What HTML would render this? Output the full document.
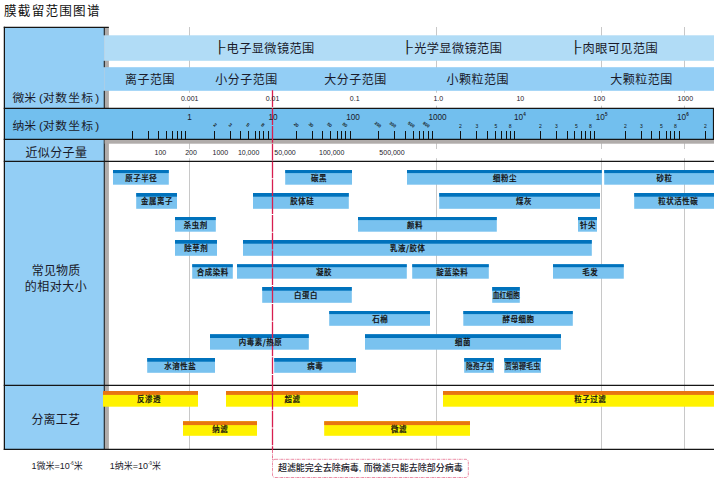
<!DOCTYPE html>
<html lang="zh-CN">
<head>
<meta charset="utf-8">
<title>膜截留范围图谱</title>
<style>
html,body{margin:0;padding:0;background:#fff;}
body{width:720px;height:483px;overflow:hidden;font-family:"Liberation Sans", "Noto Sans CJK SC", sans-serif;}
svg{display:block;}
text{white-space:pre;}
</style>
</head>
<body>
<svg width="720" height="483" viewBox="0 0 720 483">
<rect x="0" y="0" width="720" height="483" fill="#ffffff"/>
<rect x="189.00" y="27.00" width="1.00" height="422.00" fill="#c8c8c8" />
<rect x="436.00" y="27.00" width="1.00" height="422.00" fill="#c8c8c8" />
<rect x="601.00" y="27.00" width="1.00" height="422.00" fill="#c8c8c8" />
<rect x="684.00" y="27.00" width="1.00" height="422.00" fill="#c8c8c8" />
<rect x="109.00" y="92.70" width="605.00" height="13.00" fill="#ffffff" />
<rect x="109.00" y="149.00" width="605.00" height="9.20" fill="#ffffff" />
<rect x="4.00" y="27.00" width="100.50" height="422.00" fill="#93cef5" />
<rect x="104.60" y="27.00" width="4.30" height="422.00" fill="#b0acaa" />
<rect x="104.50" y="35.30" width="609.50" height="25.50" fill="#b1dcf6" />
<rect x="104.50" y="67.20" width="609.50" height="23.60" fill="#93cef5" />
<rect x="103.75" y="27.00" width="1.05" height="8.30" fill="#151515" />
<rect x="103.75" y="60.80" width="1.05" height="6.40" fill="#151515" />
<rect x="103.75" y="90.80" width="1.05" height="17.20" fill="#151515" />
<rect x="103.75" y="139.00" width="1.05" height="310.00" fill="#151515" />
<rect x="4.00" y="108.00" width="710.00" height="31.50" fill="#72bfee" />
<rect x="104.60" y="139.60" width="609.40" height="4.10" fill="#b0acaa" />
<rect x="3.75" y="107.75" width="710.25" height="1.25" fill="#151515" />
<rect x="3.75" y="138.75" width="710.25" height="1.25" fill="#151515" />
<rect x="3.75" y="160.75" width="710.25" height="1.25" fill="#151515" />
<rect x="3.75" y="384.75" width="710.25" height="1.25" fill="#151515" />
<rect x="3.75" y="448.75" width="710.25" height="1.25" fill="#151515" />
<rect x="3.75" y="26.75" width="105.05" height="1.25" fill="#151515" />
<rect x="3.75" y="26.75" width="1.25" height="423.25" fill="#151515" />
<rect x="712.90" y="108.00" width="1.10" height="32.00" fill="#151515" />
<rect x="132.00" y="131.00" width="1.00" height="8.00" fill="#111" />
<rect x="148.00" y="131.00" width="1.00" height="8.00" fill="#111" />
<rect x="158.00" y="131.00" width="1.00" height="8.00" fill="#111" />
<rect x="166.00" y="131.00" width="1.00" height="8.00" fill="#111" />
<rect x="172.00" y="131.00" width="1.00" height="8.00" fill="#111" />
<rect x="177.00" y="131.00" width="1.00" height="8.00" fill="#111" />
<rect x="181.00" y="131.00" width="1.00" height="8.00" fill="#111" />
<rect x="185.00" y="131.00" width="1.00" height="8.00" fill="#111" />
<rect x="214.00" y="131.00" width="1.00" height="8.00" fill="#111" />
<rect x="230.00" y="131.00" width="1.00" height="8.00" fill="#111" />
<rect x="240.00" y="131.00" width="1.00" height="8.00" fill="#111" />
<rect x="248.00" y="131.00" width="1.00" height="8.00" fill="#111" />
<rect x="255.00" y="131.00" width="1.00" height="8.00" fill="#111" />
<rect x="259.00" y="131.00" width="1.00" height="8.00" fill="#111" />
<rect x="263.00" y="131.00" width="1.00" height="8.00" fill="#111" />
<rect x="268.00" y="131.00" width="1.00" height="8.00" fill="#111" />
<rect x="296.00" y="131.00" width="1.00" height="8.00" fill="#111" />
<rect x="312.00" y="131.00" width="1.00" height="8.00" fill="#111" />
<rect x="322.00" y="131.00" width="1.00" height="8.00" fill="#111" />
<rect x="330.00" y="131.00" width="1.00" height="8.00" fill="#111" />
<rect x="337.00" y="131.00" width="1.00" height="8.00" fill="#111" />
<rect x="341.00" y="131.00" width="1.00" height="8.00" fill="#111" />
<rect x="345.00" y="131.00" width="1.00" height="8.00" fill="#111" />
<rect x="350.00" y="131.00" width="1.00" height="8.00" fill="#111" />
<rect x="378.00" y="131.00" width="1.00" height="8.00" fill="#111" />
<rect x="394.00" y="131.00" width="1.00" height="8.00" fill="#111" />
<rect x="405.00" y="131.00" width="1.00" height="8.00" fill="#111" />
<rect x="413.00" y="131.00" width="1.00" height="8.00" fill="#111" />
<rect x="419.00" y="131.00" width="1.00" height="8.00" fill="#111" />
<rect x="423.00" y="131.00" width="1.00" height="8.00" fill="#111" />
<rect x="428.00" y="131.00" width="1.00" height="8.00" fill="#111" />
<rect x="432.00" y="131.00" width="1.00" height="8.00" fill="#111" />
<rect x="460.00" y="131.00" width="1.00" height="8.00" fill="#111" />
<rect x="476.00" y="131.00" width="1.00" height="8.00" fill="#111" />
<rect x="487.00" y="131.00" width="1.00" height="8.00" fill="#111" />
<rect x="495.00" y="131.00" width="1.00" height="8.00" fill="#111" />
<rect x="501.00" y="131.00" width="1.00" height="8.00" fill="#111" />
<rect x="506.00" y="131.00" width="1.00" height="8.00" fill="#111" />
<rect x="510.00" y="131.00" width="1.00" height="8.00" fill="#111" />
<rect x="514.00" y="131.00" width="1.00" height="8.00" fill="#111" />
<rect x="540.00" y="131.00" width="1.00" height="8.00" fill="#111" />
<rect x="556.00" y="131.00" width="1.00" height="8.00" fill="#111" />
<rect x="567.00" y="131.00" width="1.00" height="8.00" fill="#111" />
<rect x="574.00" y="131.00" width="1.00" height="8.00" fill="#111" />
<rect x="581.00" y="131.00" width="1.00" height="8.00" fill="#111" />
<rect x="585.00" y="131.00" width="1.00" height="8.00" fill="#111" />
<rect x="590.00" y="131.00" width="1.00" height="8.00" fill="#111" />
<rect x="594.00" y="131.00" width="1.00" height="8.00" fill="#111" />
<rect x="625.00" y="131.00" width="1.00" height="8.00" fill="#111" />
<rect x="641.00" y="131.00" width="1.00" height="8.00" fill="#111" />
<rect x="651.00" y="131.00" width="1.00" height="8.00" fill="#111" />
<rect x="659.00" y="131.00" width="1.00" height="8.00" fill="#111" />
<rect x="666.00" y="131.00" width="1.00" height="8.00" fill="#111" />
<rect x="670.00" y="131.00" width="1.00" height="8.00" fill="#111" />
<rect x="674.00" y="131.00" width="1.00" height="8.00" fill="#111" />
<rect x="679.00" y="131.00" width="1.00" height="8.00" fill="#111" />
<rect x="705.00" y="131.00" width="1.00" height="8.00" fill="#111" />
<rect x="113.00" y="170.00" width="55.80" height="14.70" fill="#79c2ef" />
<rect x="113.00" y="170.00" width="55.80" height="3.10" fill="#0072bc" />
<rect x="285.20" y="170.00" width="66.80" height="14.70" fill="#79c2ef" />
<rect x="285.20" y="170.00" width="66.80" height="3.10" fill="#0072bc" />
<rect x="407.00" y="170.00" width="194.80" height="14.70" fill="#79c2ef" />
<rect x="407.00" y="170.00" width="194.80" height="3.10" fill="#0072bc" />
<rect x="604.20" y="170.00" width="109.80" height="14.70" fill="#79c2ef" />
<rect x="604.20" y="170.00" width="109.80" height="3.10" fill="#0072bc" />
<rect x="136.20" y="193.00" width="40.80" height="15.80" fill="#79c2ef" />
<rect x="136.20" y="193.00" width="40.80" height="3.70" fill="#0072bc" />
<rect x="253.00" y="193.00" width="95.80" height="15.80" fill="#79c2ef" />
<rect x="253.00" y="193.00" width="95.80" height="3.70" fill="#0072bc" />
<rect x="439.20" y="193.00" width="160.80" height="15.80" fill="#79c2ef" />
<rect x="439.20" y="193.00" width="160.80" height="3.70" fill="#0072bc" />
<rect x="634.20" y="193.00" width="79.80" height="15.80" fill="#79c2ef" />
<rect x="634.20" y="193.00" width="79.80" height="3.70" fill="#0072bc" />
<rect x="175.00" y="217.00" width="40.80" height="14.70" fill="#79c2ef" />
<rect x="175.00" y="217.00" width="40.80" height="3.10" fill="#0072bc" />
<rect x="358.00" y="217.00" width="138.80" height="14.70" fill="#79c2ef" />
<rect x="358.00" y="217.00" width="138.80" height="3.10" fill="#0072bc" />
<rect x="578.00" y="217.00" width="19.00" height="14.70" fill="#79c2ef" />
<rect x="578.00" y="217.00" width="19.00" height="3.10" fill="#0072bc" />
<rect x="175.00" y="240.00" width="42.00" height="15.80" fill="#79c2ef" />
<rect x="175.00" y="240.00" width="42.00" height="3.70" fill="#0072bc" />
<rect x="243.00" y="240.00" width="348.80" height="15.80" fill="#79c2ef" />
<rect x="243.00" y="240.00" width="348.80" height="3.70" fill="#0072bc" />
<rect x="192.20" y="264.20" width="40.60" height="14.50" fill="#79c2ef" />
<rect x="192.20" y="264.20" width="40.60" height="3.00" fill="#0072bc" />
<rect x="237.00" y="264.20" width="169.80" height="14.50" fill="#79c2ef" />
<rect x="237.00" y="264.20" width="169.80" height="3.00" fill="#0072bc" />
<rect x="412.20" y="264.20" width="76.60" height="14.50" fill="#79c2ef" />
<rect x="412.20" y="264.20" width="76.60" height="3.00" fill="#0072bc" />
<rect x="553.00" y="264.20" width="70.80" height="14.50" fill="#79c2ef" />
<rect x="553.00" y="264.20" width="70.80" height="3.00" fill="#0072bc" />
<rect x="262.20" y="287.00" width="89.60" height="15.80" fill="#79c2ef" />
<rect x="262.20" y="287.00" width="89.60" height="3.70" fill="#0072bc" />
<rect x="492.20" y="287.00" width="27.60" height="15.80" fill="#79c2ef" />
<rect x="492.20" y="287.00" width="27.60" height="3.70" fill="#0072bc" />
<rect x="329.20" y="311.00" width="100.80" height="14.80" fill="#79c2ef" />
<rect x="329.20" y="311.00" width="100.80" height="3.10" fill="#0072bc" />
<rect x="463.30" y="311.00" width="109.50" height="14.80" fill="#79c2ef" />
<rect x="463.30" y="311.00" width="109.50" height="3.10" fill="#0072bc" />
<rect x="210.00" y="334.20" width="98.80" height="15.50" fill="#79c2ef" />
<rect x="210.00" y="334.20" width="98.80" height="3.80" fill="#0072bc" />
<rect x="365.00" y="334.20" width="196.00" height="15.50" fill="#79c2ef" />
<rect x="365.00" y="334.20" width="196.00" height="3.80" fill="#0072bc" />
<rect x="147.20" y="358.00" width="67.80" height="14.80" fill="#79c2ef" />
<rect x="147.20" y="358.00" width="67.80" height="3.70" fill="#0072bc" />
<rect x="274.20" y="358.00" width="81.80" height="14.80" fill="#79c2ef" />
<rect x="274.20" y="358.00" width="81.80" height="3.70" fill="#0072bc" />
<rect x="464.20" y="358.00" width="29.80" height="14.80" fill="#79c2ef" />
<rect x="464.20" y="358.00" width="29.80" height="3.70" fill="#0072bc" />
<rect x="504.20" y="358.00" width="36.80" height="14.80" fill="#79c2ef" />
<rect x="504.20" y="358.00" width="36.80" height="3.70" fill="#0072bc" />
<rect x="103.00" y="391.00" width="95.00" height="15.70" fill="#fff200" />
<rect x="103.00" y="391.00" width="95.00" height="3.90" fill="#e87511" />
<rect x="226.00" y="391.00" width="132.00" height="15.70" fill="#fff200" />
<rect x="226.00" y="391.00" width="132.00" height="3.90" fill="#e87511" />
<rect x="443.00" y="391.00" width="271.00" height="15.70" fill="#fff200" />
<rect x="443.00" y="391.00" width="271.00" height="3.90" fill="#e87511" />
<rect x="183.00" y="421.20" width="74.00" height="14.60" fill="#fff200" />
<rect x="183.00" y="421.20" width="74.00" height="3.90" fill="#e87511" />
<rect x="324.20" y="421.20" width="145.80" height="14.60" fill="#fff200" />
<rect x="324.20" y="421.20" width="145.80" height="3.90" fill="#e87511" />
<line x1="272.50" y1="90.30" x2="272.50" y2="450.00" stroke="#d81e4f" stroke-width="1.3" stroke-dasharray="16.8 1"/>
<line x1="272.50" y1="450.00" x2="272.50" y2="461.00" stroke="#d81e4f" stroke-width="0.9" stroke-opacity="0.7" stroke-dasharray="3 0.8 0.8 0.8"/>
<rect x="272.5" y="459.3" width="195.8" height="18.2" rx="2.5" ry="2.5" fill="#fff" stroke="#d81e4f" stroke-opacity="0.65" stroke-width="0.8" stroke-dasharray="3 0.8 0.8 0.8"/>
<text transform="translate(141.20 181.28) scale(0.93 1)" x="0" y="0" font-size="8" text-anchor="middle" font-family='"Noto Sans CJK SC", "Liberation Sans", sans-serif' font-weight="500" fill="#111" stroke="#111" stroke-width="0.22" letter-spacing="0.60">原子半径</text>
<text transform="translate(319.10 181.28) scale(0.93 1)" x="0" y="0" font-size="8" text-anchor="middle" font-family='"Noto Sans CJK SC", "Liberation Sans", sans-serif' font-weight="500" fill="#111" stroke="#111" stroke-width="0.22" letter-spacing="0.60">碳黑</text>
<text transform="translate(505.10 181.28) scale(0.93 1)" x="0" y="0" font-size="8" text-anchor="middle" font-family='"Noto Sans CJK SC", "Liberation Sans", sans-serif' font-weight="500" fill="#111" stroke="#111" stroke-width="0.22" letter-spacing="0.60">细粉尘</text>
<text transform="translate(664.50 181.28) scale(0.93 1)" x="0" y="0" font-size="8" text-anchor="middle" font-family='"Noto Sans CJK SC", "Liberation Sans", sans-serif' font-weight="500" fill="#111" stroke="#111" stroke-width="0.22" letter-spacing="0.60">砂粒</text>
<text transform="translate(156.90 204.28) scale(0.93 1)" x="0" y="0" font-size="8" text-anchor="middle" font-family='"Noto Sans CJK SC", "Liberation Sans", sans-serif' font-weight="500" fill="#111" stroke="#111" stroke-width="0.22" letter-spacing="0.60">金属离子</text>
<text transform="translate(302.30 204.28) scale(0.93 1)" x="0" y="0" font-size="8" text-anchor="middle" font-family='"Noto Sans CJK SC", "Liberation Sans", sans-serif' font-weight="500" fill="#111" stroke="#111" stroke-width="0.22" letter-spacing="0.60">胶体硅</text>
<text transform="translate(524.10 204.28) scale(0.93 1)" x="0" y="0" font-size="8" text-anchor="middle" font-family='"Noto Sans CJK SC", "Liberation Sans", sans-serif' font-weight="500" fill="#111" stroke="#111" stroke-width="0.22" letter-spacing="0.60">煤灰</text>
<text transform="translate(678.30 204.28) scale(0.93 1)" x="0" y="0" font-size="8" text-anchor="middle" font-family='"Noto Sans CJK SC", "Liberation Sans", sans-serif' font-weight="500" fill="#111" stroke="#111" stroke-width="0.22" letter-spacing="0.60">粒状活性碳</text>
<text transform="translate(195.70 228.28) scale(0.93 1)" x="0" y="0" font-size="8" text-anchor="middle" font-family='"Noto Sans CJK SC", "Liberation Sans", sans-serif' font-weight="500" fill="#111" stroke="#111" stroke-width="0.22" letter-spacing="0.60">杀虫剂</text>
<text transform="translate(415.00 228.28) scale(0.93 1)" x="0" y="0" font-size="8" text-anchor="middle" font-family='"Noto Sans CJK SC", "Liberation Sans", sans-serif' font-weight="500" fill="#111" stroke="#111" stroke-width="0.22" letter-spacing="0.60">颜料</text>
<text transform="translate(588.10 228.28) scale(0.93 1)" x="0" y="0" font-size="8" text-anchor="middle" font-family='"Noto Sans CJK SC", "Liberation Sans", sans-serif' font-weight="500" fill="#111" stroke="#111" stroke-width="0.22" letter-spacing="0.60">针尖</text>
<text transform="translate(196.30 251.28) scale(0.93 1)" x="0" y="0" font-size="8" text-anchor="middle" font-family='"Noto Sans CJK SC", "Liberation Sans", sans-serif' font-weight="500" fill="#111" stroke="#111" stroke-width="0.22" letter-spacing="0.60">除草剂</text>
<text transform="translate(407.80 251.28) scale(0.93 1)" x="0" y="0" font-size="8" text-anchor="middle" font-family='"Noto Sans CJK SC", "Liberation Sans", sans-serif' font-weight="500" fill="#111" stroke="#111" stroke-width="0.22" letter-spacing="0.60">乳液/胶体</text>
<text transform="translate(212.80 275.48) scale(0.93 1)" x="0" y="0" font-size="8" text-anchor="middle" font-family='"Noto Sans CJK SC", "Liberation Sans", sans-serif' font-weight="500" fill="#111" stroke="#111" stroke-width="0.22" letter-spacing="0.60">合成染料</text>
<text transform="translate(324.10 275.48) scale(0.93 1)" x="0" y="0" font-size="8" text-anchor="middle" font-family='"Noto Sans CJK SC", "Liberation Sans", sans-serif' font-weight="500" fill="#111" stroke="#111" stroke-width="0.22" letter-spacing="0.60">凝胶</text>
<text transform="translate(452.30 275.48) scale(0.93 1)" x="0" y="0" font-size="8" text-anchor="middle" font-family='"Noto Sans CJK SC", "Liberation Sans", sans-serif' font-weight="500" fill="#111" stroke="#111" stroke-width="0.22" letter-spacing="0.60">靛蓝染料</text>
<text transform="translate(590.30 275.48) scale(0.93 1)" x="0" y="0" font-size="8" text-anchor="middle" font-family='"Noto Sans CJK SC", "Liberation Sans", sans-serif' font-weight="500" fill="#111" stroke="#111" stroke-width="0.22" letter-spacing="0.60">毛发</text>
<text transform="translate(305.90 298.28) scale(0.93 1)" x="0" y="0" font-size="8" text-anchor="middle" font-family='"Noto Sans CJK SC", "Liberation Sans", sans-serif' font-weight="500" fill="#111" stroke="#111" stroke-width="0.22" letter-spacing="0.60">白蛋白</text>
<text x="492.70" y="298.28" font-size="8" text-anchor="start" font-family='"Noto Sans CJK SC", "Liberation Sans", sans-serif' font-weight="500" fill="#111" letter-spacing="0" stroke="#111" stroke-width="0.15" textLength="27.0" lengthAdjust="spacingAndGlyphs">血红细胞</text>
<text transform="translate(380.30 322.28) scale(0.93 1)" x="0" y="0" font-size="8" text-anchor="middle" font-family='"Noto Sans CJK SC", "Liberation Sans", sans-serif' font-weight="500" fill="#111" stroke="#111" stroke-width="0.22" letter-spacing="0.60">石棉</text>
<text transform="translate(518.50 322.28) scale(0.93 1)" x="0" y="0" font-size="8" text-anchor="middle" font-family='"Noto Sans CJK SC", "Liberation Sans", sans-serif' font-weight="500" fill="#111" stroke="#111" stroke-width="0.22" letter-spacing="0.60">酵母细胞</text>
<text transform="translate(260.50 345.48) scale(0.93 1)" x="0" y="0" font-size="8" text-anchor="middle" font-family='"Noto Sans CJK SC", "Liberation Sans", sans-serif' font-weight="500" fill="#111" stroke="#111" stroke-width="0.22" letter-spacing="0.60">内毒素/热原</text>
<text transform="translate(463.10 345.48) scale(0.93 1)" x="0" y="0" font-size="8" text-anchor="middle" font-family='"Noto Sans CJK SC", "Liberation Sans", sans-serif' font-weight="500" fill="#111" stroke="#111" stroke-width="0.22" letter-spacing="0.60">细菌</text>
<text transform="translate(180.30 369.28) scale(0.93 1)" x="0" y="0" font-size="8" text-anchor="middle" font-family='"Noto Sans CJK SC", "Liberation Sans", sans-serif' font-weight="500" fill="#111" stroke="#111" stroke-width="0.22" letter-spacing="0.60">水溶性盐</text>
<text transform="translate(315.30 369.28) scale(0.93 1)" x="0" y="0" font-size="8" text-anchor="middle" font-family='"Noto Sans CJK SC", "Liberation Sans", sans-serif' font-weight="500" fill="#111" stroke="#111" stroke-width="0.22" letter-spacing="0.60">病毒</text>
<text x="466.00" y="369.28" font-size="8" text-anchor="start" font-family='"Noto Sans CJK SC", "Liberation Sans", sans-serif' font-weight="500" fill="#111" letter-spacing="0" stroke="#111" stroke-width="0.15" textLength="27.0" lengthAdjust="spacingAndGlyphs">隐孢子虫</text>
<text x="504.70" y="369.28" font-size="8" text-anchor="start" font-family='"Noto Sans CJK SC", "Liberation Sans", sans-serif' font-weight="500" fill="#111" letter-spacing="0" stroke="#111" stroke-width="0.15" textLength="35.6" lengthAdjust="spacingAndGlyphs">贾第鞭毛虫</text>
<text transform="translate(149.10 402.28) scale(0.93 1)" x="0" y="0" font-size="8" text-anchor="middle" font-family='"Noto Sans CJK SC", "Liberation Sans", sans-serif' font-weight="500" fill="#111" stroke="#111" stroke-width="0.22" letter-spacing="0.60">反渗透</text>
<text transform="translate(292.50 402.28) scale(0.93 1)" x="0" y="0" font-size="8" text-anchor="middle" font-family='"Noto Sans CJK SC", "Liberation Sans", sans-serif' font-weight="500" fill="#111" stroke="#111" stroke-width="0.22" letter-spacing="0.60">超滤</text>
<text transform="translate(590.30 402.28) scale(0.93 1)" x="0" y="0" font-size="8" text-anchor="middle" font-family='"Noto Sans CJK SC", "Liberation Sans", sans-serif' font-weight="500" fill="#111" stroke="#111" stroke-width="0.22" letter-spacing="0.60">粒子过滤</text>
<text transform="translate(220.30 432.48) scale(0.93 1)" x="0" y="0" font-size="8" text-anchor="middle" font-family='"Noto Sans CJK SC", "Liberation Sans", sans-serif' font-weight="500" fill="#111" stroke="#111" stroke-width="0.22" letter-spacing="0.60">纳滤</text>
<text transform="translate(399.10 432.48) scale(0.93 1)" x="0" y="0" font-size="8" text-anchor="middle" font-family='"Noto Sans CJK SC", "Liberation Sans", sans-serif' font-weight="500" fill="#111" stroke="#111" stroke-width="0.22" letter-spacing="0.60">微滤</text>
<text x="4.00" y="14.70" font-size="12.6" text-anchor="start" font-family='"Noto Sans CJK SC", "Liberation Sans", sans-serif' font-weight="400" fill="#111" letter-spacing="1.22" >膜截留范围图谱</text>
<text x="12.40 24.30 38.90 42.80 55.30 68.20 81.30 95.30" y="101.65" font-size="11.8" font-family='"Liberation Sans", "Noto Sans CJK SC", sans-serif' font-weight="400" fill="#1a1a2a">微米(对数坐标)</text>
<text x="12.40 24.30 38.90 42.80 55.30 68.20 81.30 95.30" y="130.05" font-size="11.8" font-family='"Liberation Sans", "Noto Sans CJK SC", sans-serif' font-weight="400" fill="#1a1a2a">纳米(对数坐标)</text>
<text x="56.40" y="157.32" font-size="12" text-anchor="middle" font-family='"Noto Sans CJK SC", "Liberation Sans", sans-serif' font-weight="400" fill="#1a1a2a" letter-spacing="0.4" >近似分子量</text>
<text x="56.10" y="275.42" font-size="12" text-anchor="middle" font-family='"Noto Sans CJK SC", "Liberation Sans", sans-serif' font-weight="400" fill="#1a1a2a" letter-spacing="0.2" >常见物质</text>
<text x="56.00" y="291.22" font-size="12" text-anchor="middle" font-family='"Noto Sans CJK SC", "Liberation Sans", sans-serif' font-weight="400" fill="#1a1a2a" letter-spacing="0.5" >的相对大小</text>
<text x="55.80" y="424.22" font-size="12" text-anchor="middle" font-family='"Noto Sans CJK SC", "Liberation Sans", sans-serif' font-weight="400" fill="#1a1a2a" letter-spacing="0.2" >分离工艺</text>
<text transform="translate(219.00 51.3) scale(1.3 1)" x="-3.84" y="0" font-size="12" font-family='"Liberation Sans", "Noto Sans CJK SC", sans-serif' fill="#111">├</text>
<text x="226.60" y="52.69" font-size="12.2" text-anchor="start" font-family='"Noto Sans CJK SC", "Liberation Sans", sans-serif' font-weight="400" fill="#1a1a2a" letter-spacing="0.4" >电子显微镜范围</text>
<text transform="translate(406.60 51.3) scale(1.3 1)" x="-3.84" y="0" font-size="12" font-family='"Liberation Sans", "Noto Sans CJK SC", sans-serif' fill="#111">├</text>
<text x="414.20" y="52.69" font-size="12.2" text-anchor="start" font-family='"Noto Sans CJK SC", "Liberation Sans", sans-serif' font-weight="400" fill="#1a1a2a" letter-spacing="0.4" >光学显微镜范围</text>
<text transform="translate(575.00 51.3) scale(1.3 1)" x="-3.84" y="0" font-size="12" font-family='"Liberation Sans", "Noto Sans CJK SC", sans-serif' fill="#111">├</text>
<text x="582.60" y="52.69" font-size="12.2" text-anchor="start" font-family='"Noto Sans CJK SC", "Liberation Sans", sans-serif' font-weight="400" fill="#1a1a2a" letter-spacing="0.4" >肉眼可见范围</text>
<text x="149.90" y="83.62" font-size="12.0" text-anchor="middle" font-family='"Noto Sans CJK SC", "Liberation Sans", sans-serif' font-weight="400" fill="#1a1a2a" letter-spacing="0.5" >离子范围</text>
<text x="246.60" y="83.62" font-size="12.0" text-anchor="middle" font-family='"Noto Sans CJK SC", "Liberation Sans", sans-serif' font-weight="400" fill="#1a1a2a" letter-spacing="0.5" >小分子范围</text>
<text x="355.60" y="83.62" font-size="12.0" text-anchor="middle" font-family='"Noto Sans CJK SC", "Liberation Sans", sans-serif' font-weight="400" fill="#1a1a2a" letter-spacing="0.5" >大分子范围</text>
<text x="477.70" y="83.62" font-size="12.0" text-anchor="middle" font-family='"Noto Sans CJK SC", "Liberation Sans", sans-serif' font-weight="400" fill="#1a1a2a" letter-spacing="0.5" >小颗粒范围</text>
<text x="641.50" y="83.62" font-size="12.0" text-anchor="middle" font-family='"Noto Sans CJK SC", "Liberation Sans", sans-serif' font-weight="400" fill="#1a1a2a" letter-spacing="0.5" >大颗粒范围</text>
<text x="189.70" y="101.30" font-size="7" text-anchor="middle" font-family='"Liberation Sans", "Noto Sans CJK SC", sans-serif' font-weight="400" fill="#1a1a2a" letter-spacing="0" >0.001</text>
<text x="272.50" y="101.30" font-size="7" text-anchor="middle" font-family='"Liberation Sans", "Noto Sans CJK SC", sans-serif' font-weight="400" fill="#1a1a2a" letter-spacing="0" >0.01</text>
<text x="354.70" y="101.30" font-size="7" text-anchor="middle" font-family='"Liberation Sans", "Noto Sans CJK SC", sans-serif' font-weight="400" fill="#1a1a2a" letter-spacing="0" >0.1</text>
<text x="438.30" y="101.30" font-size="7" text-anchor="middle" font-family='"Liberation Sans", "Noto Sans CJK SC", sans-serif' font-weight="400" fill="#1a1a2a" letter-spacing="0" >1.0</text>
<text x="520.30" y="101.30" font-size="7" text-anchor="middle" font-family='"Liberation Sans", "Noto Sans CJK SC", sans-serif' font-weight="400" fill="#1a1a2a" letter-spacing="0" >10</text>
<text x="599.20" y="101.30" font-size="7" text-anchor="middle" font-family='"Liberation Sans", "Noto Sans CJK SC", sans-serif' font-weight="400" fill="#1a1a2a" letter-spacing="0" >100</text>
<text x="685.30" y="101.30" font-size="7" text-anchor="middle" font-family='"Liberation Sans", "Noto Sans CJK SC", sans-serif' font-weight="400" fill="#1a1a2a" letter-spacing="0" >1000</text>
<text x="189.50" y="119.90" font-size="8.2" text-anchor="middle" font-family='"Liberation Sans", "Noto Sans CJK SC", sans-serif' font-weight="400" fill="#1a1a2a" letter-spacing="0" >1</text>
<text x="273.00" y="119.90" font-size="8.2" text-anchor="middle" font-family='"Liberation Sans", "Noto Sans CJK SC", sans-serif' font-weight="400" fill="#1a1a2a" letter-spacing="0" >10</text>
<text x="353.00" y="119.90" font-size="8.2" text-anchor="middle" font-family='"Liberation Sans", "Noto Sans CJK SC", sans-serif' font-weight="400" fill="#1a1a2a" letter-spacing="0" >100</text>
<text x="437.50" y="119.90" font-size="8.2" text-anchor="middle" font-family='"Liberation Sans", "Noto Sans CJK SC", sans-serif' font-weight="400" fill="#1a1a2a" letter-spacing="0" >1000</text>
<text x="513.90" y="119.9" font-size="8.2" font-family='"Liberation Sans", "Noto Sans CJK SC", sans-serif' fill="#1a1a2a">10<tspan dy="-3.6" dx="0.3" font-size="4.5" font-weight="700">4</tspan></text>
<text x="595.70" y="119.9" font-size="8.2" font-family='"Liberation Sans", "Noto Sans CJK SC", sans-serif' fill="#1a1a2a">10<tspan dy="-3.6" dx="0.3" font-size="4.5" font-weight="700">5</tspan></text>
<text x="676.90" y="119.9" font-size="8.2" font-family='"Liberation Sans", "Noto Sans CJK SC", sans-serif' fill="#1a1a2a">10<tspan dy="-3.6" dx="0.3" font-size="4.5" font-weight="700">6</tspan></text>
<text x="160.40" y="155.10" font-size="7" text-anchor="middle" font-family='"Liberation Sans", "Noto Sans CJK SC", sans-serif' font-weight="400" fill="#1a1a2a" letter-spacing="0" >100</text>
<text x="191.00" y="155.10" font-size="7" text-anchor="middle" font-family='"Liberation Sans", "Noto Sans CJK SC", sans-serif' font-weight="400" fill="#1a1a2a" letter-spacing="0" >200</text>
<text x="220.30" y="155.10" font-size="7" text-anchor="middle" font-family='"Liberation Sans", "Noto Sans CJK SC", sans-serif' font-weight="400" fill="#1a1a2a" letter-spacing="0" >1000</text>
<text x="248.60" y="155.10" font-size="7" text-anchor="middle" font-family='"Liberation Sans", "Noto Sans CJK SC", sans-serif' font-weight="400" fill="#1a1a2a" letter-spacing="0" >10,000</text>
<text x="285.00" y="155.10" font-size="7" text-anchor="middle" font-family='"Liberation Sans", "Noto Sans CJK SC", sans-serif' font-weight="400" fill="#1a1a2a" letter-spacing="0" >50,000</text>
<text x="331.70" y="155.10" font-size="7" text-anchor="middle" font-family='"Liberation Sans", "Noto Sans CJK SC", sans-serif' font-weight="400" fill="#1a1a2a" letter-spacing="0" >100,000</text>
<text x="392.00" y="155.10" font-size="7" text-anchor="middle" font-family='"Liberation Sans", "Noto Sans CJK SC", sans-serif' font-weight="400" fill="#1a1a2a" letter-spacing="0" >500,000</text>
<text x="215.20" y="126.60" font-size="4.8" text-anchor="middle" font-family='"Liberation Sans", "Noto Sans CJK SC", sans-serif' fill="#111" font-weight="700" transform="rotate(42 215.20 124.87)">2</text>
<text x="230.30" y="126.60" font-size="4.8" text-anchor="middle" font-family='"Liberation Sans", "Noto Sans CJK SC", sans-serif' fill="#111" font-weight="700" transform="rotate(42 230.30 124.87)">3</text>
<text x="248.00" y="126.60" font-size="4.8" text-anchor="middle" font-family='"Liberation Sans", "Noto Sans CJK SC", sans-serif' fill="#111" font-weight="700" transform="rotate(42 248.00 124.87)">5</text>
<text x="263.00" y="126.60" font-size="4.8" text-anchor="middle" font-family='"Liberation Sans", "Noto Sans CJK SC", sans-serif' fill="#111" font-weight="700" transform="rotate(42 263.00 124.87)">8</text>
<text x="296.30" y="126.40" font-size="4.4" text-anchor="middle" font-family='"Liberation Sans", "Noto Sans CJK SC", sans-serif' fill="#111" font-weight="700" transform="rotate(40 296.30 124.82)">20</text>
<text x="311.10" y="126.40" font-size="4.4" text-anchor="middle" font-family='"Liberation Sans", "Noto Sans CJK SC", sans-serif' fill="#111" font-weight="700" transform="rotate(40 311.10 124.82)">30</text>
<text x="329.60" y="126.40" font-size="4.4" text-anchor="middle" font-family='"Liberation Sans", "Noto Sans CJK SC", sans-serif' fill="#111" font-weight="700" transform="rotate(40 329.60 124.82)">50</text>
<text x="344.90" y="126.40" font-size="4.4" text-anchor="middle" font-family='"Liberation Sans", "Noto Sans CJK SC", sans-serif' fill="#111" font-weight="700" transform="rotate(40 344.90 124.82)">80</text>
<text x="378.00" y="126.10" font-size="4.2" text-anchor="middle" font-family='"Liberation Sans", "Noto Sans CJK SC", sans-serif' fill="#111" font-weight="700" transform="rotate(35 378.00 124.59)">200</text>
<text x="392.80" y="126.10" font-size="4.2" text-anchor="middle" font-family='"Liberation Sans", "Noto Sans CJK SC", sans-serif' fill="#111" font-weight="700" transform="rotate(35 392.80 124.59)">300</text>
<text x="411.30" y="126.10" font-size="4.2" text-anchor="middle" font-family='"Liberation Sans", "Noto Sans CJK SC", sans-serif' fill="#111" font-weight="700" transform="rotate(35 411.30 124.59)">500</text>
<text x="426.30" y="126.10" font-size="4.2" text-anchor="middle" font-family='"Liberation Sans", "Noto Sans CJK SC", sans-serif' fill="#111" font-weight="700" transform="rotate(35 426.30 124.59)">800</text>
<text x="460.30" y="128.00" font-size="5" text-anchor="middle" font-family='"Liberation Sans", "Noto Sans CJK SC", sans-serif' font-weight="400" fill="#111" letter-spacing="0" >2</text>
<text x="476.80" y="128.00" font-size="5" text-anchor="middle" font-family='"Liberation Sans", "Noto Sans CJK SC", sans-serif' font-weight="400" fill="#111" letter-spacing="0" >3</text>
<text x="496.00" y="128.00" font-size="5" text-anchor="middle" font-family='"Liberation Sans", "Noto Sans CJK SC", sans-serif' font-weight="400" fill="#111" letter-spacing="0" >5</text>
<text x="510.20" y="128.00" font-size="5" text-anchor="middle" font-family='"Liberation Sans", "Noto Sans CJK SC", sans-serif' font-weight="400" fill="#111" letter-spacing="0" >8</text>
<text x="540.30" y="128.00" font-size="5" text-anchor="middle" font-family='"Liberation Sans", "Noto Sans CJK SC", sans-serif' font-weight="400" fill="#111" letter-spacing="0" >2</text>
<text x="556.30" y="128.00" font-size="5" text-anchor="middle" font-family='"Liberation Sans", "Noto Sans CJK SC", sans-serif' font-weight="400" fill="#111" letter-spacing="0" >3</text>
<text x="576.30" y="128.00" font-size="5" text-anchor="middle" font-family='"Liberation Sans", "Noto Sans CJK SC", sans-serif' font-weight="400" fill="#111" letter-spacing="0" >5</text>
<text x="590.30" y="128.00" font-size="5" text-anchor="middle" font-family='"Liberation Sans", "Noto Sans CJK SC", sans-serif' font-weight="400" fill="#111" letter-spacing="0" >8</text>
<text x="625.30" y="128.00" font-size="5" text-anchor="middle" font-family='"Liberation Sans", "Noto Sans CJK SC", sans-serif' font-weight="400" fill="#111" letter-spacing="0" >2</text>
<text x="641.30" y="128.00" font-size="5" text-anchor="middle" font-family='"Liberation Sans", "Noto Sans CJK SC", sans-serif' font-weight="400" fill="#111" letter-spacing="0" >3</text>
<text x="661.30" y="128.00" font-size="5" text-anchor="middle" font-family='"Liberation Sans", "Noto Sans CJK SC", sans-serif' font-weight="400" fill="#111" letter-spacing="0" >5</text>
<text x="675.30" y="128.00" font-size="5" text-anchor="middle" font-family='"Liberation Sans", "Noto Sans CJK SC", sans-serif' font-weight="400" fill="#111" letter-spacing="0" >8</text>
<text x="705.30" y="128.00" font-size="5" text-anchor="middle" font-family='"Liberation Sans", "Noto Sans CJK SC", sans-serif' font-weight="400" fill="#111" letter-spacing="0" >2</text>
<text x="31.5" y="468.8" font-size="9" font-weight="400" font-family='"Liberation Sans", "Noto Sans CJK SC", sans-serif' fill="#1a1a2a">1微米=10<tspan dy="-3.5" font-size="4.5">-6</tspan><tspan dy="3.5" font-size="9">米</tspan></text>
<text x="109.8" y="468.8" font-size="9" font-weight="400" font-family='"Liberation Sans", "Noto Sans CJK SC", sans-serif' fill="#1a1a2a">1纳米=10<tspan dy="-3.5" font-size="4.5">-9</tspan><tspan dy="3.5" font-size="9">米</tspan></text>
<text x="277.90" y="471.10" font-size="9" text-anchor="start" font-family='"Liberation Sans", "Noto Sans CJK SC", sans-serif' font-weight="500" fill="#1a1a2a" letter-spacing="-0.01" >超滤能完全去除病毒, 而微滤只能去除部分病毒</text>
</svg>
</body>
</html>
